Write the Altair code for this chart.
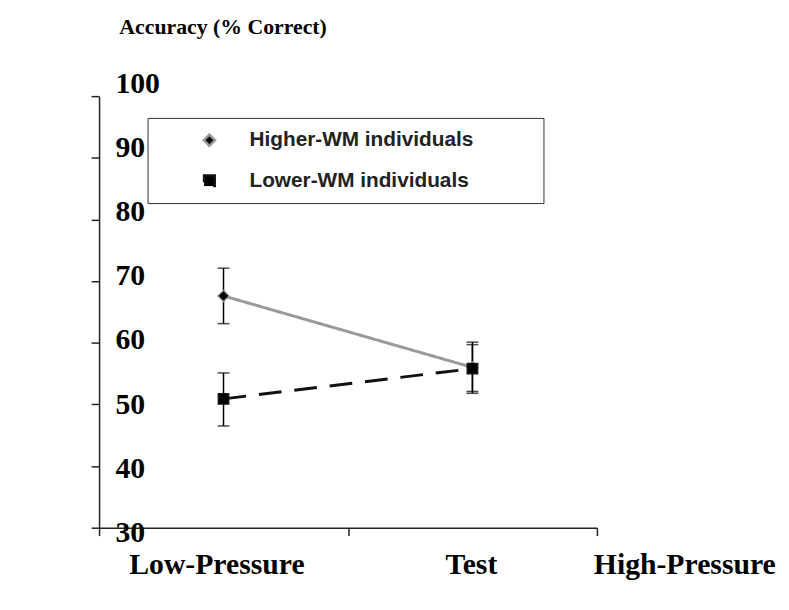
import altair as alt
import pandas as pd

# ---- data ----
conditions = ["Low-Pressure", "High-Pressure"]
series_names = ["Higher-WM individuals", "Lower-WM individuals"]
higher_mean = [67.6, 56.0]
higher_low = [63.1, 51.8]
higher_high = [72.1, 60.1]
lower_mean = [50.9, 55.8]
lower_low = [46.5, 52.1]
lower_high = [55.1, 59.7]
y_ticks = [30, 40, 50, 60, 70, 80, 90, 100]

rows = []
for s, m, lo, hi in [
    (series_names[0], higher_mean, higher_low, higher_high),
    (series_names[1], lower_mean, lower_low, lower_high),
]:
    for c, mv, l, h in zip(conditions, m, lo, hi):
        rows.append({"condition": c, "series": s, "marker": s, "mean": mv, "lo": l, "hi": h})
df = pd.DataFrame(rows)

NB = "\u00a0"
ZW = "\u200b"
x_title = "Low-Pressure" + NB * 19 + "Test" + NB * 13 + "High-Pressure"

SERIF = "Liberation Serif"
SANS = "Liberation Sans"
AXC = "#222222"
line_colors = ["#999999", "#111111"]

x_scale = alt.Scale(domain=conditions, paddingInner=0, paddingOuter=0)
y_scale = alt.Scale(domain=[30, 100], nice=False, zero=False)

x_axis = alt.Axis(
    tickBand="extent", labels=False, ticks=True, tickSize=8, tickColor=AXC,
    tickWidth=1.5, domainColor=AXC, domainWidth=1.5, grid=False,
    title=x_title, titleFont=SERIF, titleFontWeight="bold", titleFontSize=30,
    titleColor="black", titleX=30, titleY=46, titleAlign="left",
    titleBaseline="alphabetic",
)
y_axis = alt.Axis(
    values=y_ticks, tickSize=8, tickColor=AXC, tickWidth=1.5,
    domainColor=AXC, domainWidth=1.5, grid=False,
    labelFont=SERIF, labelFontWeight="bold", labelFontSize=30, labelColor="black",
    labelAlign="left", labelPadding=-24, labelBaseline="alphabetic",
    labelOffset={"expr": "5 + (65 - datum.value) * 0.25"},
    labelFlush=False, labelOverlap=False,
    title="Accuracy (% Correct)", titleFont=SERIF, titleFontWeight="bold",
    titleFontSize=22, titleColor="black", titleAngle=0, titleX=20, titleY=-63,
    titleAlign="left", titleBaseline="alphabetic",
)

# legend symbols: short line with the marker in its middle (1 unit = 8 px)
p_hi = "M-4.4,0L-0.45,0M0.45,0L4.6,0M0,-0.55L0.5,0L0,0.55L-0.5,0Z"
p_lo = "M-4.3,0L-1.2,0M0.56,0L3.7,0M-0.56,-0.56L0.56,-0.56L0.56,0.56L-0.56,0.56Z"
is_hi = "datum.value === '" + series_names[0] + "'"
shape_expr = is_hi + " ? '" + p_hi + "' : '" + p_lo + "'"
stroke_expr = is_hi + " ? '" + line_colors[0] + "' : '" + line_colors[1] + "'"

legend_common = dict(
    orient="none", legendX=49, legendY=22, title=None,
    strokeColor="#333333", fillColor="white", padding=12, rowPadding=18,
    symbolSize=256, symbolStrokeWidth=2.5, symbolFillColor="black",
    symbolStrokeColor={"expr": stroke_expr},
    symbolOffset=40, labelOffset=30, labelLimit=600,
    symbolType={"expr": shape_expr},
    labelFont=SANS, labelFontWeight="bold", labelFontSize=21, labelColor="#222222",
    labelExpr="datum.label + '" + NB * 10 + ZW + "'",
)

enc_cond = {"symbols": {
    "stroke": {"condition": {"test": is_hi, "value": line_colors[0]}, "value": line_colors[1]},
    "strokeWidth": {"value": 2.5},
    "strokeOpacity": {"value": 1},
    "fill": {"value": "black"},
}}
enc_const = {"symbols": {
    "stroke": {"value": "#555555"},
    "strokeWidth": {"value": 2.5},
    "fill": {"value": "black"},
}}


def build(extra):
    legend = alt.Legend(**legend_common, **extra)
    base = alt.Chart(df)
    lines = base.mark_line(strokeWidth=3).encode(
        x=alt.X("condition:N", sort=conditions, scale=x_scale, axis=x_axis),
        y=alt.Y("mean:Q", scale=y_scale, axis=y_axis),
        color=alt.Color("series:N", scale=alt.Scale(domain=series_names, range=line_colors), legend=legend),
        strokeDash=alt.StrokeDash("series:N", scale=alt.Scale(domain=series_names, range=[[1, 0], [23, 13]]), legend=None),
    )
    rules = base.mark_rule(color="black", strokeWidth=1.5).encode(
        x=alt.X("condition:N", sort=conditions, scale=x_scale),
        y=alt.Y("lo:Q", scale=y_scale),
        y2="hi:Q",
        detail="marker:N",
    )
    caps_lo = base.mark_tick(orient="horizontal", size=12, thickness=1.5, color="black").encode(
        x=alt.X("condition:N", sort=conditions, scale=x_scale),
        y=alt.Y("lo:Q", scale=y_scale),
    )
    caps_hi = base.mark_tick(orient="horizontal", size=12, thickness=1.5, color="black").encode(
        x=alt.X("condition:N", sort=conditions, scale=x_scale),
        y=alt.Y("hi:Q", scale=y_scale),
    )
    points = base.mark_point(filled=True, strokeWidth=1.2, opacity=1).encode(
        x=alt.X("condition:N", sort=conditions, scale=x_scale),
        y=alt.Y("mean:Q", scale=y_scale),
        shape=alt.Shape("marker:N", scale=alt.Scale(domain=series_names, range=["diamond", "square"]), legend=None),
        size=alt.Size("marker:N", scale=alt.Scale(domain=series_names, range=[130, 115]), legend=None),
        color=alt.value("black"),
        stroke=alt.Stroke("marker:N", scale=alt.Scale(domain=series_names, range=line_colors), legend=None),
    )
    return alt.layer(lines, rules, caps_lo, caps_hi, points).properties(
        width=503, height=436,
        padding={"left": 92, "top": 86, "right": 186, "bottom": 72},
        autosize=alt.AutoSizeParams(type="none"),
        background="white",
    ).configure_view(stroke=None)


chart = None
for extra in ({"encode": enc_cond}, {"encode": enc_const}, {}):
    try:
        c = build(extra)
        c.to_dict()
        chart = c
        break
    except Exception:
        continue

chart.save("out.html", embed_options={"renderer": "svg", "actions": False})
